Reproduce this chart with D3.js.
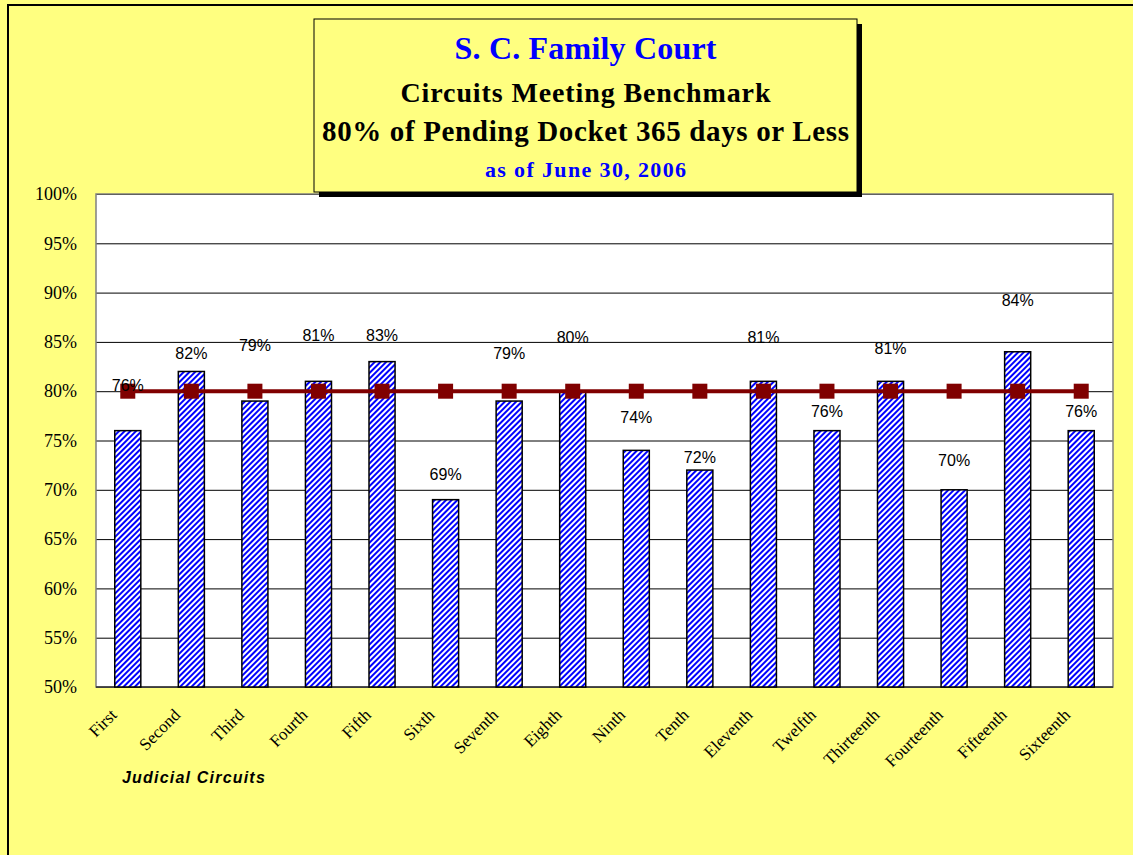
<!DOCTYPE html>
<html>
<head>
<meta charset="UTF-8">
<title>S. C. Family Court - Circuits Meeting Benchmark</title>
<script src="https://cdnjs.cloudflare.com/ajax/libs/d3/7.8.5/d3.min.js"></script>
<style>
body
{
margin:0;
background:#ffff80;
}
.ylab text
{
font-family:"Liberation Serif", "Times New Roman", serif;
font-size:18px;
fill:black;
}
.grid line
{
stroke:black;
stroke-width:1;
}
.vlabel
{
font-family:"Liberation Sans", Arial, sans-serif;
font-size:16px;
fill:black;
}
.xlabel
{
font-family:"Liberation Serif", "Times New Roman", serif;
font-size:17px;
fill:black;
}
</style>
</head>
<body>
<div id="chart"></div>

<script>
// values
var circuits=["First","Second","Third","Fourth","Fifth","Sixth","Seventh","Eighth",
  "Ninth","Tenth","Eleventh","Twelfth","Thirteenth","Fourteenth","Fifteenth","Sixteenth"];
var pct=[76,82,79,81,83,69,79,80,74,72,81,76,81,70,84,76];
var benchmark=[80,80,80,80,80,80,80,80,80,80,80,80,80,80,80,80];
// where each data label sits, in % units (labels were dragged around in the original)
var labelAt=[80.6,83.9,84.7,85.7,85.7,71.6,83.9,85.5,77.4,73.3,85.5,78.0,84.4,73.0,89.2,78.0];
var yTicks=[50,55,60,65,70,75,80,85,90,95,100];
var titleLines=["S. C. Family Court","Circuits Meeting Benchmark","80% of Pending Docket 365 days or Less","as of June 30, 2006"];
var xTitle="Judicial Circuits";

var width=1133, height=855;
var pLeft=96, pRight=1113, pTop=194, pBottom=687;

var svg=d3.select("#chart").append("svg").attr("width",width).attr("height",height);

// hatch for the bars
var defs=svg.append("defs");
var pat=defs.append("pattern")
  .attr("id","hatch")
  .attr("patternUnits","userSpaceOnUse")
  .attr("width",4).attr("height",4)
  .attr("patternTransform","rotate(45)");
pat.append("rect").attr("width",4).attr("height",4).attr("fill","white");
pat.append("rect").attr("width",2).attr("height",4).attr("fill","#0000ff");

// chart area with black frame on left/top
svg.append("rect")
  .attr("x",8).attr("y",5)
  .attr("width",1300).attr("height",1000)
  .attr("fill","#ffff80")
  .attr("stroke","black")
  .attr("stroke-width",2);

var x=d3.scaleBand().domain(circuits).range([pLeft,pRight]).paddingInner(0.59).paddingOuter(0.295);
var y=d3.scaleLinear().domain([50,100]).range([pBottom,pTop]);

// plot area
svg.append("rect")
  .attr("x",pLeft).attr("y",pTop)
  .attr("width",pRight-pLeft).attr("height",pBottom-pTop)
  .attr("fill","white");

svg.append("g")
  .attr("class","grid")
  .attr("transform","translate("+pLeft+",0)")
  .call(d3.axisLeft(y).tickValues(yTicks).tickSize(-(pRight-pLeft)).tickFormat(""))
  .select(".domain").remove();

svg.append("rect")
  .attr("x",pLeft).attr("y",pTop)
  .attr("width",pRight-pLeft).attr("height",pBottom-pTop)
  .attr("fill","none")
  .attr("stroke","#808080")
  .attr("stroke-width",1.5);

svg.append("line")
  .attr("x1",pLeft).attr("x2",pRight)
  .attr("y1",pBottom).attr("y2",pBottom)
  .attr("stroke","#333").attr("stroke-width",1.5);

var yl=svg.append("g")
  .attr("class","ylab")
  .attr("transform","translate("+pLeft+",0)")
  .call(d3.axisLeft(y).tickValues(yTicks).tickSize(0).tickPadding(19).tickFormat(function(d){return d+"%";}));
yl.select(".domain").remove();
yl.selectAll("text").attr("font-family",null).attr("font-size",null);

// bars
svg.selectAll(".bar").data(pct).enter().append("rect")
  .attr("class","bar")
  .attr("x",function(d,i){return x(circuits[i]);})
  .attr("y",function(d){return y(d);})
  .attr("width",x.bandwidth())
  .attr("height",function(d){return pBottom-y(d);})
  .attr("fill","url(#hatch)")
  .attr("stroke","black")
  .attr("stroke-width",1.5);

// benchmark line
var cx=function(i){return x(circuits[i])+x.bandwidth()/2;};
var line=d3.line().x(function(d,i){return cx(i);}).y(function(d){return y(d);});
svg.append("path")
  .datum(benchmark)
  .attr("d",line)
  .attr("fill","none")
  .attr("stroke","#800000")
  .attr("stroke-width",4);

svg.selectAll(".mark").data(benchmark).enter().append("rect")
  .attr("class","mark")
  .attr("x",function(d,i){return cx(i)-7.5;})
  .attr("y",function(d){return y(d)-7.5;})
  .attr("width",15).attr("height",15)
  .attr("fill","#800000");

// data labels
svg.selectAll(".vlabel").data(pct).enter().append("text")
  .attr("class","vlabel")
  .attr("x",function(d,i){return cx(i);})
  .attr("y",function(d,i){return y(labelAt[i])+6;})
  .attr("text-anchor","middle")
  .text(function(d){return d+"%";});

// category labels
svg.selectAll(".xlabel").data(circuits).enter().append("text")
  .attr("class","xlabel")
  .attr("text-anchor","end")
  .attr("transform",function(d,i){return "translate("+(cx(i)-10)+","+(716)+") rotate(-45)";})
  .text(function(d){return d;});

svg.append("text")
  .attr("x",122).attr("y",783)
  .attr("font-family","Liberation Sans, Arial, sans-serif")
  .attr("font-size",16)
  .attr("font-weight","bold")
  .attr("font-style","italic")
  .attr("letter-spacing",1.2)
  .text(xTitle);

// title box with shadow
svg.append("rect")
  .attr("x",319).attr("y",24).attr("width",543).attr("height",173)
  .attr("fill","black");
svg.append("rect")
  .attr("x",314).attr("y",19).attr("width",543).attr("height",173)
  .attr("fill","#ffff80")
  .attr("stroke","black").attr("stroke-width",1);

var tstyle=[{y:59,size:32,fill:"#0000ff",len:262},{y:102,size:28,fill:"black",len:370},
  {y:141,size:29,fill:"black",len:527},{y:177,size:22,fill:"#0000ff",len:201}];
svg.selectAll(".title").data(titleLines).enter().append("text")
  .attr("class","title")
  .attr("x",585.5)
  .attr("y",function(d,i){return tstyle[i].y;})
  .attr("text-anchor","middle")
  .attr("font-family","Liberation Serif, Times New Roman, serif")
  .attr("font-weight","bold")
  .attr("font-size",function(d,i){return tstyle[i].size;})
  .attr("fill",function(d,i){return tstyle[i].fill;})
  .attr("textLength",function(d,i){return tstyle[i].len;})
  .attr("lengthAdjust","spacing")
  .text(function(d){return d;});
</script>
</body>
</html>
